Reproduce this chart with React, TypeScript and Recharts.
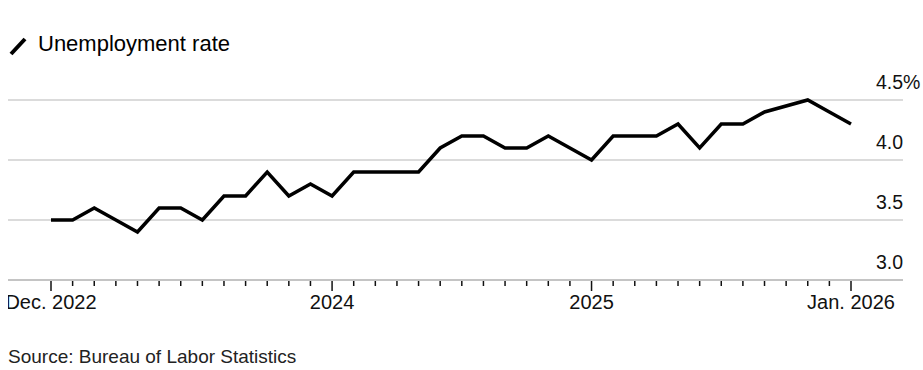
import React from "react";
import { LineChart, Line, XAxis, YAxis, CartesianGrid } from "recharts";

const months: string[] = [
  "Dec 2022", "Jan 2023", "Feb 2023", "Mar 2023", "Apr 2023", "May 2023", "Jun 2023", "Jul 2023",
  "Aug 2023", "Sep 2023", "Oct 2023", "Nov 2023", "Dec 2023", "Jan 2024", "Feb 2024", "Mar 2024",
  "Apr 2024", "May 2024", "Jun 2024", "Jul 2024", "Aug 2024", "Sep 2024", "Oct 2024", "Nov 2024",
  "Dec 2024", "Jan 2025", "Feb 2025", "Mar 2025", "Apr 2025", "May 2025", "Jun 2025", "Jul 2025",
  "Aug 2025", "Sep 2025", "Oct 2025", "Nov 2025", "Dec 2025", "Jan 2026",
];

const unemploymentRate: (number | null)[] = [
  3.5, 3.5, 3.6, 3.5, 3.4, 3.6, 3.6, 3.5,
  3.7, 3.7, 3.9, 3.7, 3.8, 3.7, 3.9, 3.9,
  3.9, 3.9, 4.1, 4.2, 4.2, 4.1, 4.1, 4.2,
  4.1, 4.0, 4.2, 4.2, 4.2, 4.3, 4.1, 4.3,
  4.3, 4.4, null, 4.5, 4.4, 4.3,
];

const majorTickLabels: Record<number, string> = {
  0: "Dec. 2022",
  13: "2024",
  25: "2025",
  37: "Jan. 2026",
};

const yTicks: number[] = [3.0, 3.5, 4.0, 4.5];

const data = months.map((m, i) => ({ i, month: m, rate: unemploymentRate[i] }));
const xTicks = months.map((_, i) => i);

const FONT = "'Liberation Sans', Arial, Helvetica, sans-serif";

const XTick = (props: any) => {
  const { x, y, payload } = props;
  const label = majorTickLabels[payload.value];
  const major = label !== undefined;
  return (
    <g>
      <line x1={x} x2={x} y1={y + 1} y2={y + (major ? 11 : 6)} stroke="#111" strokeWidth={1.5} />
      {major && (
        <text x={x} y={y + 29} textAnchor="middle" fontSize={20} fill="#111" fontFamily={FONT}>
          {label}
        </text>
      )}
    </g>
  );
};

const YTick = (props: any) => {
  const { x, y, payload } = props;
  const v = Number(payload.value);
  const top = v === yTicks[yTicks.length - 1];
  return (
    <g>
      <text x={x} y={y - 11} textAnchor="end" fontSize={19.5} fill="#111" fontFamily={FONT}>
        {v.toFixed(1)}
      </text>
      {top && (
        <text x={x} y={y - 11} textAnchor="start" fontSize={19.5} fill="#111" fontFamily={FONT}>
          %
        </text>
      )}
    </g>
  );
};

export default function App() {
  return (
    <div style={{ position: "relative", width: 915, height: 362, fontFamily: FONT }}>
      <style>{`html,body{overflow:hidden}body{margin:8px 0 0 8px;width:915px;height:362px}#root{width:915px}.recharts-surface{overflow:visible}`}</style>
      <svg style={{ position: "absolute", left: 0, top: 26 }} width={24} height={24}>
        <line x1={3} y1={20} x2={17} y2={5} stroke="#000" strokeWidth={4} />
      </svg>
      <div
        style={{
          position: "absolute",
          left: 30,
          top: 22,
          fontSize: 22,
          lineHeight: "28px",
          color: "#000",
          whiteSpace: "nowrap",
        }}
      >
        Unemployment rate
      </div>
      <div style={{ position: "absolute", left: 0, top: 52 }}>
        <LineChart
          width={914}
          height={260}
          data={data}
          margin={{ top: 40, right: 0, bottom: 0, left: 0 }}
        >
          <CartesianGrid vertical={false} stroke="#cfcfcf" strokeWidth={1.5} />
          <XAxis
            dataKey="i"
            type="number"
            domain={[0, 37]}
            ticks={xTicks}
            interval={0}
            padding={{ left: 43, right: 52 }}
            height={40}
            tickSize={0}
            tickMargin={0}
            axisLine={{ stroke: "#bdbdbd", strokeWidth: 1.5 }}
            tick={<XTick />}
          />
          <YAxis
            orientation="right"
            domain={[3, 4.5]}
            ticks={yTicks}
            width={19}
            tickSize={0}
            tickMargin={0}
            axisLine={false}
            tickLine={false}
            tick={<YTick />}
          />
          <Line
            type="linear"
            dataKey="rate"
            stroke="#000"
            strokeWidth={3.5}
            dot={false}
            connectNulls
            isAnimationActive={false}
          />
        </LineChart>
      </div>
      <div
        style={{
          position: "absolute",
          left: 0,
          top: 337,
          fontSize: 19,
          lineHeight: "24px",
          color: "#222",
          whiteSpace: "nowrap",
        }}
      >
        Source: Bureau of Labor Statistics
      </div>
    </div>
  );
}
